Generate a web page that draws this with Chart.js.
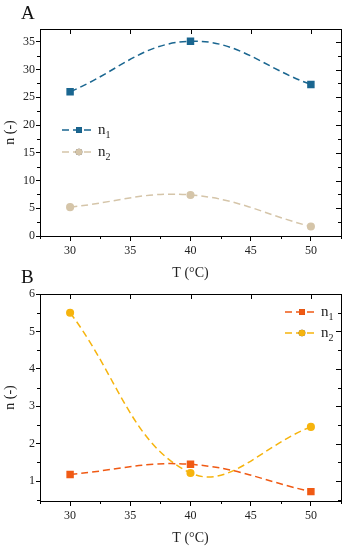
<!DOCTYPE html>
<html>
<head>
<meta charset="utf-8">
<script src="https://cdn.jsdelivr.net/npm/chart.js@4/dist/chart.umd.min.js"></script>
<style>
  html, body { margin: 0; padding: 0; background: #fff; }
  #wrap { position: relative; width: 347px; height: 550px; }
  canvas { position: absolute; left: 0; }
  #chartA { top: 0; }
  #chartB { top: 265px; }
</style>
</head>
<body>
<div id="wrap">
  <canvas id="chartA" width="347" height="285"></canvas>
  <canvas id="chartB" width="347" height="285"></canvas>
</div>
<script>
// temperatures (x)
const temps = [30, 40, 50];
const xTicks = [30, 35, 40, 45, 50];

// panel A
const a_n1 = [26.0, 35.1, 27.3];
const a_n2 = [5.2, 7.4, 1.7];
const aYTicks = [0, 5, 10, 15, 20, 25, 30, 35];

// panel B
const b_n1 = [1.18, 1.45, 0.72];
const b_n2 = [5.5, 1.22, 2.45];
const bYTicks = [1, 2, 3, 4, 5, 6];

const seriesLabels = ['1', '2'];

const serif = "'Liberation Serif', 'Times New Roman', serif";

function pts(ys) {
  return temps.map((t, i) => ({ x: t, y: ys[i] }));
}

function ds(ys, color, style, radius) {
  return {
    data: pts(ys),
    borderColor: color,
    backgroundColor: color,
    borderWidth: 1.5,
    borderDash: [7, 4],
    tension: 0.4,
    pointStyle: style,
    pointRadius: radius,
    pointHoverRadius: radius
  };
}

// frame, minor ticks, inward ticks on top/right
const framePlugin = {
  id: 'frame',
  afterDraw(chart) {
    const { ctx, chartArea: a, scales: { x, y } } = chart;
    ctx.save();
    ctx.strokeStyle = '#000';
    ctx.lineWidth = 1;
    ctx.strokeRect(Math.round(a.left) + 0.5, Math.round(a.top) + 0.5,
      Math.round(a.right - a.left), Math.round(a.bottom - a.top));
    ctx.beginPath();
    // x minor (bottom out) + major top in
    for (let v = 27.5; v <= 52.5; v += 2.5) {
      const px = Math.round(x.getPixelForValue(v)) + 0.5;
      const major = v % 5 === 0;
      if (!major) {
        ctx.moveTo(px, a.bottom); ctx.lineTo(px, a.bottom + 3);
      } else {
        ctx.moveTo(px, a.top); ctx.lineTo(px, a.top + 5);
      }
    }
    const yt = chart.options.scales.y.myTicks;
    const step = yt[1] - yt[0];
    for (let v = yt[0] - step; v <= y.max; v += step / 2) {
      if (v < y.min) continue;
      const py = Math.round(y.getPixelForValue(v)) + 0.5;
      const major = Math.abs(((v - yt[0]) / step) - Math.round((v - yt[0]) / step)) < 1e-6;
      if (!major) {
        ctx.moveTo(a.left, py); ctx.lineTo(a.left - 3, py);
      }
      ctx.moveTo(a.right, py); ctx.lineTo(a.right - (major ? 5 : 3), py);
    }
    ctx.stroke();
    ctx.restore();
  }
};

// legend drawn inside the plot
const legendPlugin = {
  id: 'innerLegend',
  afterDraw(chart, args, opts) {
    const { ctx } = chart;
    ctx.save();
    chart.data.datasets.forEach((d, i) => {
      const yy = opts.y + i * opts.gap;
      ctx.strokeStyle = d.borderColor;
      ctx.lineWidth = 1.5;
      ctx.setLineDash([7, 4]);
      ctx.beginPath();
      ctx.moveTo(opts.x, yy);
      ctx.lineTo(opts.x + 30, yy);
      ctx.stroke();
      ctx.setLineDash([]);
      Chart.helpers.drawPoint(ctx, {
        pointStyle: d.pointStyle, radius: d.pointRadius, borderWidth: 0
      }, opts.x + 17, yy);
      ctx.fillStyle = d.borderColor;
      ctx.fill();
      ctx.fillStyle = '#222';
      ctx.font = '15px ' + serif;
      ctx.textBaseline = 'alphabetic';
      ctx.textAlign = 'left';
      ctx.fillText('n', opts.x + 36, yy + 4);
      const w = ctx.measureText('n').width;
      ctx.font = '10px ' + serif;
      ctx.fillText(seriesLabels[i], opts.x + 36 + w, yy + 8);
    });
    ctx.restore();
  }
};

// panel letter
const letterPlugin = {
  id: 'letter',
  afterDraw(chart, args, opts) {
    const { ctx } = chart;
    ctx.save();
    ctx.fillStyle = '#111';
    ctx.font = '19px ' + serif;
    ctx.textBaseline = 'alphabetic';
    ctx.fillText(opts.text, opts.x, opts.y);
    ctx.restore();
  }
};

function makeChart(id, n1, n2, c1, c2, yMin, yMax, yTicks, legendPos, letterPos, letter) {
  const tickFont = { family: serif, size: 12 };
  const titleFont = { family: serif, size: 14 };
  return new Chart(document.getElementById(id), {
    type: 'line',
    data: {
      datasets: [ds(n1, c1, 'rect', 4.2), ds(n2, c2, 'circle', 3.3)]
    },
    options: {
      responsive: false,
      animation: false,
      events: [],
      layout: { padding: { left: 0, right: 6, top: 29, bottom: 0 } },
      plugins: {
        legend: { display: false },
        tooltip: { enabled: false },
        innerLegend: legendPos,
        letter: { text: letter, x: letterPos.x, y: letterPos.y }
      },
      scales: {
        x: {
          type: 'linear',
          min: 27.5,
          max: 52.5,
          afterBuildTicks: s => { s.ticks = xTicks.map(v => ({ value: v })); },
          afterFit: s => { s.height = 49; },
          grid: { drawOnChartArea: false, tickLength: 5, color: '#000' },
          border: { display: true, color: '#000' },
          ticks: { color: '#222', font: tickFont, padding: 3, maxRotation: 0 },
          title: { display: true, text: 'T (°C)', color: '#222', font: titleFont, padding: { top: 0, bottom: 3 } }
        },
        y: {
          min: yMin,
          max: yMax,
          myTicks: yTicks,
          afterBuildTicks: s => { s.ticks = yTicks.map(v => ({ value: v })); },
          afterFit: s => { s.width = 40; },
          grid: { drawOnChartArea: false, tickLength: 4, color: '#000' },
          border: { display: true, color: '#000' },
          ticks: { color: '#222', font: tickFont, padding: 1 },
          title: { display: true, text: 'n (-)', color: '#222', font: titleFont, padding: { top: 2, bottom: 0 } }
        }
      }
    },
    plugins: [framePlugin, legendPlugin, letterPlugin]
  });
}

makeChart('chartA', a_n1, a_n2, '#1a6690', '#d5c5a9', 0, 37.3, aYTicks,
  { x: 62, y: 130, gap: 22 }, { x: 21, y: 19 }, 'A');

makeChart('chartB', b_n1, b_n2, '#f05a14', '#f6b40e', 0.47, 6, bYTicks,
  { x: 285, y: 47, gap: 21 }, { x: 21, y: 18 }, 'B');
</script>
</body>
</html>
